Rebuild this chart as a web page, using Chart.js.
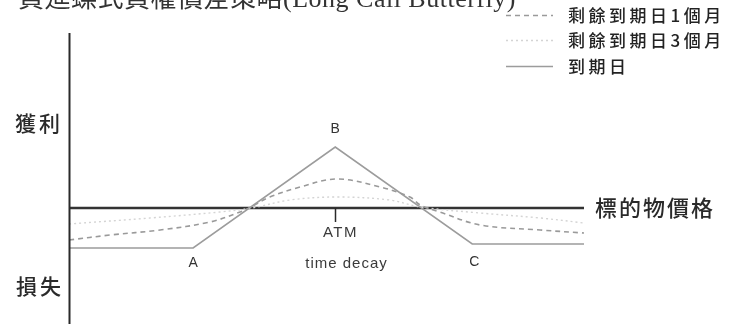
<!DOCTYPE html>
<html>
<head>
<meta charset="utf-8">
<script src="https://cdn.jsdelivr.net/npm/chart.js@4.4.1/dist/chart.umd.min.js"></script>
<style>
html,body{margin:0;padding:0;background:#fff;}
#wrap{position:relative;width:733px;height:324px;}
</style>
</head>
<body>
<div id="wrap"><canvas id="c" width="733" height="324"></canvas></div>
<script>
// ---- data (underlying price in arbitrary units 0..100, profit/loss in arbitrary units) ----
const title = "買進蝶式買權價差策略(Long Call Butterfly)";
const seriesLabels = ["剩餘到期日1個月", "剩餘到期日3個月", "到期日"];
const xAxisLabel = "標的物價格";
const profitLabel = "獲利";
const lossLabel = "損失";

const expiryX = [0, 24.1, 51.7, 78.3, 100];
const expiryY = [-4.0, -4.0, 6.1, -3.6, -3.6];

const oneMonthX = [0, 8.0, 17.7, 27.4, 33.2, 35.7, 39.0, 44.9, 52.0, 60.4, 66.2, 68.2, 72.0, 79.8, 91.5, 100];
const oneMonthY = [-3.2, -2.7, -2.2, -1.4, -0.4, 0.2, 1.1, 2.1, 2.9, 2.1, 1.1, 0.3, -0.4, -1.7, -2.2, -2.5];

const threeMonthX = [0, 15.7, 29.3, 35.5, 42.9, 52.0, 62.3, 68.2, 79.8, 91.5, 100];
const threeMonthY = [-1.6, -1.0, -0.4, 0.0, 0.8, 1.1, 0.8, 0.1, -0.5, -1.0, -1.5];

const baselineX = [0, 100];
const baselineY = [0, 0];

const pointLabels = ["A", "B", "C"];      // expiry kinks at expiryX[1..3]
const atmLabel = "ATM";
const decayLabel = "time decay";
const atmTickDepth = -1.4;

function pts(xs, ys){ return xs.map((x,i)=>({x:x, y:ys[i]})); }

const CJK = '"Noto Sans CJK TC", "Noto Sans CJK SC", sans-serif';

const decorPlugin = {
  id: 'decor',
  afterDatasetsDraw(chart){
    const ctx = chart.ctx;
    const xs = chart.scales.x, ys = chart.scales.y;
    const ca = chart.chartArea;
    ctx.save();
    // vertical axis
    ctx.strokeStyle = '#2a2a2a';
    ctx.lineWidth = 2;
    const x0 = Math.round(xs.getPixelForValue(0)) + 0.5;
    ctx.beginPath(); ctx.moveTo(x0, ca.top); ctx.lineTo(x0, ca.bottom); ctx.stroke();
    // ATM tick
    const xb = Math.round(xs.getPixelForValue(expiryX[2])) + 0.5;
    ctx.lineWidth = 1.5;
    ctx.beginPath(); ctx.moveTo(xb, ys.getPixelForValue(0)); ctx.lineTo(xb, ys.getPixelForValue(atmTickDepth)); ctx.stroke();

    // title (clipped at top as in source)
    ctx.fillStyle = '#333';
    ctx.font = '26px "Liberation Serif", ' + CJK;
    ctx.textBaseline = 'alphabetic';
    ctx.textAlign = 'left';
    ctx.letterSpacing = '0.5px';
    ctx.fillText(title, 18, 7);

    // profit / loss labels
    ctx.letterSpacing = '3px';
    ctx.font = '500 21px ' + CJK;
    ctx.fillStyle = '#2a2a2a';
    ctx.textBaseline = 'middle';
    ctx.fillText(profitLabel, 15, 123);
    ctx.fillText(lossLabel, 16, 286);

    // x axis label
    ctx.letterSpacing = '2px';
    ctx.font = '500 22px ' + CJK;
    ctx.fillText(xAxisLabel, xs.getPixelForValue(100) + 11, ys.getPixelForValue(0));

    // A B C labels
    ctx.letterSpacing = '0px';
    ctx.font = '14px "Liberation Sans", Arial, sans-serif';
    ctx.fillStyle = '#333';
    ctx.textAlign = 'center';
    const pa = [xs.getPixelForValue(expiryX[1]), ys.getPixelForValue(expiryY[1])];
    const pb = [xs.getPixelForValue(expiryX[2]), ys.getPixelForValue(expiryY[2])];
    const pc = [xs.getPixelForValue(expiryX[3]), ys.getPixelForValue(expiryY[3])];
    ctx.fillText(pointLabels[0], pa[0], pa[1] + 15);
    ctx.fillText(pointLabels[1], pb[0], pb[1] - 18);
    ctx.fillText(pointLabels[2], pc[0] + 2, pc[1] + 18);
    ctx.fillStyle = '#3a3a3a';
    ctx.font = '15px "Liberation Sans", Arial, sans-serif';
    ctx.letterSpacing = '1.5px';
    ctx.fillText(atmLabel, xb + 5, ys.getPixelForValue(0) + 25);
    ctx.letterSpacing = '1px';
    ctx.font = '15px "Liberation Sans", Arial, sans-serif';
    ctx.fillText(decayLabel, xb + 11, ys.getPixelForValue(0) + 56);

    // legend (built from the datasets)
    const rows = [15, 40, 66];
    ctx.textAlign = 'left';
    chart.data.datasets.filter(d => d.label).forEach((d, i) => {
      const y = rows[i];
      ctx.strokeStyle = d.borderColor;
      ctx.lineWidth = d.borderWidth;
      ctx.setLineDash(d.borderDash || []);
      ctx.beginPath(); ctx.moveTo(506, y + 0.5); ctx.lineTo(553, y + 0.5); ctx.stroke();
      ctx.setLineDash([]);
      ctx.fillStyle = '#222';
      ctx.letterSpacing = '3.5px';
      ctx.font = '500 17px ' + CJK;
      ctx.fillText(d.label, 568, y + 1);
    });
    ctx.restore();
  }
};

new Chart(document.getElementById('c'), {
  type: 'line',
  data: {
    datasets: [
      { label: seriesLabels[0], data: pts(oneMonthX, oneMonthY), borderColor: '#9a9a9a', borderWidth: 1.6, borderDash: [5, 4], pointRadius: 0, tension: 0.35, fill: false },
      { label: seriesLabels[1], data: pts(threeMonthX, threeMonthY), borderColor: '#d4d4d4', borderWidth: 1.4, borderDash: [2, 3], pointRadius: 0, tension: 0.35, fill: false },
      { label: seriesLabels[2], data: pts(expiryX, expiryY), borderColor: '#9c9c9c', borderWidth: 1.6, pointRadius: 0, tension: 0, fill: false },
      { label: '', data: pts(baselineX, baselineY), borderColor: '#333', borderWidth: 2.5, pointRadius: 0, tension: 0, fill: false }
    ]
  },
  options: {
    responsive: false,
    animation: false,
    layout: { padding: { left: 69, right: 149, top: 33, bottom: 0 } },
    plugins: { legend: { display: false }, tooltip: { enabled: false } },
    scales: {
      x: { type: 'linear', min: 0, max: 100, display: false },
      y: { type: 'linear', min: -11.6, max: 17.5, display: false }
    }
  },
  plugins: [decorPlugin]
});
</script>
</body>
</html>
